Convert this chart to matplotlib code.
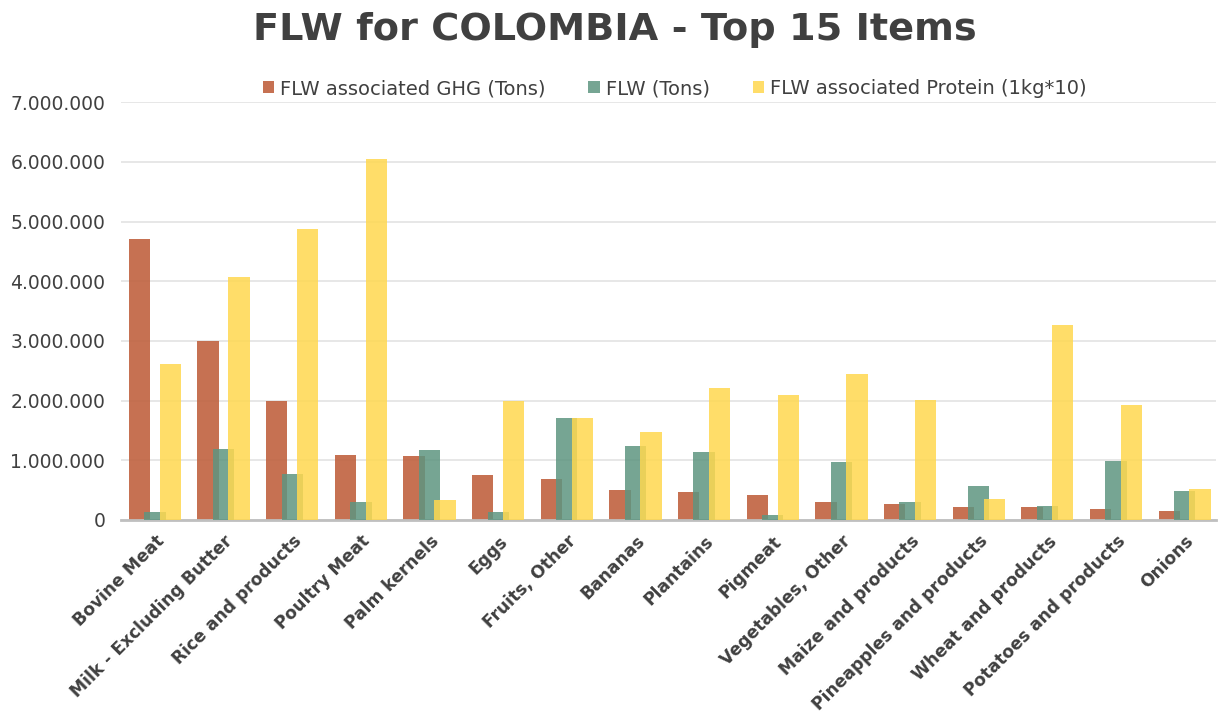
import matplotlib
matplotlib.use('Agg')
import numpy as np
from matplotlib import pyplot as plt
from matplotlib.ticker import FuncFormatter

items = ['Bovine Meat', 'Milk - Excluding Butter', 'Rice and products', 'Poultry Meat',
         'Palm kernels', 'Eggs', 'Fruits, Other', 'Bananas', 'Plantains', 'Pigmeat',
         'Vegetables, Other', 'Maize and products', 'Pineapples and products',
         'Wheat and products', 'Potatoes and products', 'Onions']
ghg = [4700000, 3000000, 2000000, 1090000, 1070000, 750000, 680000, 500000, 460000,
       420000, 300000, 270000, 210000, 220000, 180000, 150000]
flw = [130000, 1190000, 770000, 300000, 1170000, 130000, 1700000, 1240000, 1130000,
       80000, 970000, 300000, 570000, 230000, 990000, 480000]
protein = [2610000, 4070000, 4870000, 6050000, 340000, 2000000, 1700000, 1480000,
           2210000, 2100000, 2450000, 2010000, 350000, 3260000, 1930000, 520000]

text_col = '#404040'
fig = plt.figure(figsize=(12.18, 7.15), dpi=100)
ax = fig.add_axes([0.099, 0.273, 0.899, 0.584])

x = np.arange(len(items))
w = 0.31
off = 0.225
ax.bar(x - off, ghg, w, color='#C0623F', alpha=0.9, label='FLW associated GHG (Tons)', zorder=2)
ax.bar(x, flw, w, color='#5E9580', alpha=0.85, label='FLW (Tons)', zorder=3)
ax.bar(x + off, protein, w, color='#FFD84F', alpha=0.85, label='FLW associated Protein (1kg*10)', zorder=4)

ax.set_xlim(-0.5, len(items) - 0.55)
ax.set_ylim(0, 7000000)
ax.set_yticks(np.arange(0, 7000001, 1000000))
ax.yaxis.set_major_formatter(FuncFormatter(lambda v, p: f'{int(v):,}'.replace(',', '.')))
ax.yaxis.grid(True, color='#E3E3E3', linewidth=1.2, zorder=0)
ax.set_axisbelow(True)
for s in ['top', 'right', 'left']:
    ax.spines[s].set_visible(False)
ax.spines['bottom'].set_color('#BFBFBF')
ax.spines['bottom'].set_linewidth(2)
ax.tick_params(axis='both', length=0, colors=text_col)
ax.tick_params(axis='y', labelsize=13.5, pad=11)
ax.set_xticks(x)
ax.set_xticklabels(items, rotation=45, ha='right', rotation_mode='anchor',
                   fontsize=12.3, fontweight='bold', color=text_col)
ax.tick_params(axis='x', pad=9)

fig.suptitle('FLW for COLOMBIA - Top 15 Items', x=0.505, y=0.983, fontsize=27.5,
             fontweight='bold', color=text_col)
fig.legend(loc='center', bbox_to_anchor=(0.554, 0.876), ncol=3, frameon=False,
           fontsize=14, handlelength=0.6, handleheight=0.6, handletextpad=0.3,
           columnspacing=2.2, labelcolor=text_col)

fig.savefig('out.png', dpi=100)
